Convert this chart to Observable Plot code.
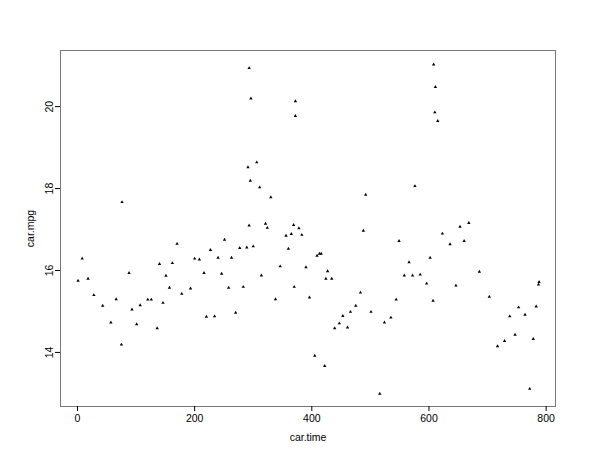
<!DOCTYPE html>
<html>
<head>
<meta charset="utf-8">
<script src="https://cdn.jsdelivr.net/npm/d3@7"></script>
<script src="https://cdn.jsdelivr.net/npm/@observablehq/plot@0.6"></script>
<style>
  html, body { margin: 0; padding: 0; background: #fff; }
  #chart { width: 600px; height: 464px; }
</style>
</head>
<body>
<div id="chart"></div>
<script>
const carTime = [1, 8, 18, 28, 43, 57, 66, 75, 76, 88, 93, 101, 107, 120, 126, 136, 140, 146, 151, 157,
  162, 170, 178, 193, 200, 208, 216, 220, 227, 234, 240, 246, 251, 258, 263, 270, 277, 283, 289, 293,
  293, 296, 291, 295, 306, 311, 330, 300, 314, 321, 324, 338, 346, 356, 360, 365, 369, 370, 372, 372,
  378, 383, 390, 396, 405, 409, 413, 416, 422, 424, 427, 434, 439, 447, 453, 461, 466, 475, 483, 488,
  492, 501, 516, 524, 535, 544, 549, 558, 566, 572, 576, 585, 596, 602, 607, 608, 611, 610, 615, 623,
  636, 646, 653, 660, 668, 686, 703, 717, 729, 738, 747, 753, 764, 772, 778, 783, 787, 788];
const carMpg = [15.75, 16.29, 15.80, 15.40, 15.14, 14.73, 15.30, 14.19, 17.67, 15.94, 15.05, 14.69, 15.15, 15.29, 15.29, 14.59, 16.16, 15.21, 15.87, 15.58,
  16.18, 16.65, 15.43, 15.56, 16.29, 16.27, 15.94, 14.87, 16.50, 14.88, 16.31, 15.92, 16.75, 15.58, 16.31, 14.97, 16.55, 15.60, 16.56, 17.10,
  20.94, 20.20, 18.52, 18.19, 18.64, 18.03, 17.79, 16.59, 15.88, 17.14, 17.04, 15.30, 16.10, 16.85, 16.53, 16.89, 17.11, 15.60, 20.13, 19.77,
  17.03, 16.87, 16.08, 15.34, 13.92, 16.36, 16.41, 16.41, 13.67, 15.80, 15.98, 15.80, 14.59, 14.71, 14.89, 14.61, 14.99, 15.14, 15.46, 16.97,
  17.85, 14.99, 12.99, 14.73, 14.85, 15.29, 16.72, 15.88, 16.20, 15.88, 18.06, 15.90, 15.68, 16.31, 15.26, 21.03, 20.48, 19.86, 19.65, 16.90,
  16.64, 15.63, 17.07, 16.72, 17.16, 15.97, 15.36, 14.15, 14.28, 14.88, 14.43, 15.10, 14.92, 13.11, 14.33, 15.12, 15.66, 15.72];
const xTicks = [0, 200, 400, 600, 800];
const yTicks = [14, 16, 18, 20];

const data = carTime.map((t, i) => ({time: t, mpg: carMpg[i]}));

const chart = Plot.plot({
  width: 600,
  height: 464,
  marginLeft: 60,
  marginRight: 45,
  marginTop: 50,
  marginBottom: 58,
  style: {fontFamily: "'Liberation Sans', Arial, sans-serif", fontSize: "10.5px", background: "#fff", color: "#000"},
  x: {domain: [-29, 816]},
  y: {domain: [12.68, 21.37]},
  marks: [
    Plot.frame({stroke: "#777", strokeWidth: 1}),
    Plot.axisX({ticks: xTicks, tickSize: 5, tickPadding: 3, line: true, label: "car.time", labelAnchor: "center", labelOffset: 34, labelArrow: "none", tickFormat: d => String(d)}),
    Plot.axisY({ticks: yTicks, tickSize: 5, tickPadding: 3, tickRotate: -90, line: true, label: "car.mpg", labelAnchor: "center", labelOffset: 34, labelArrow: "none", tickFormat: d => String(d)}),
    Plot.dot(data, {x: "time", y: "mpg", symbol: "triangle", r: 1.25, fill: "#000", stroke: "none"})
  ]
});
document.getElementById("chart").appendChild(chart);
</script>
</body>
</html>
